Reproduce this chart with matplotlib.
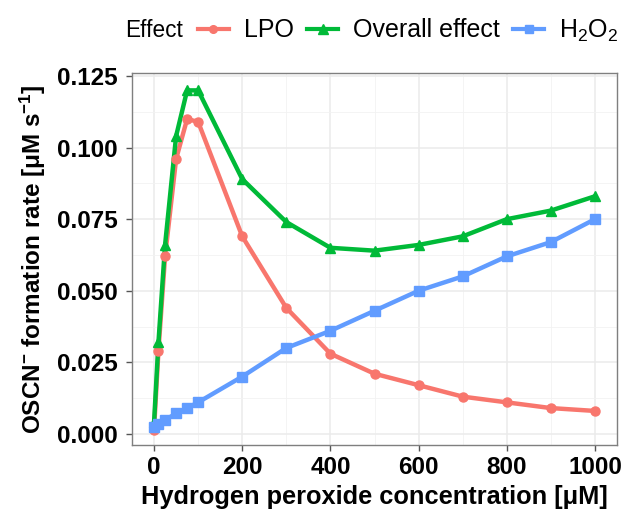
import matplotlib
matplotlib.use("Agg")
import matplotlib.pyplot as plt
from matplotlib.lines import Line2D
from matplotlib.ticker import MultipleLocator

plt.rcParams['font.family'] = ['Liberation Sans', 'DejaVu Sans']
plt.rcParams['mathtext.fontset'] = 'custom'
plt.rcParams['mathtext.rm'] = 'Liberation Sans'
plt.rcParams['mathtext.it'] = 'Liberation Sans:italic'
plt.rcParams['mathtext.bf'] = 'Liberation Sans:bold'
plt.rcParams['mathtext.default'] = 'rm'

# Data
conc = [0, 10, 25, 50, 75, 100, 200, 300, 400, 500, 600, 700, 800, 900, 1000]
lpo = [0.0015, 0.029, 0.062, 0.096, 0.110, 0.109, 0.069, 0.044, 0.028, 0.021,
       0.017, 0.013, 0.011, 0.009, 0.008]
overall = [0.004, 0.032, 0.066, 0.104, 0.120, 0.120, 0.089, 0.074, 0.065, 0.064,
           0.066, 0.069, 0.075, 0.078, 0.083]
h2o2 = [0.0025, 0.0035, 0.0047, 0.0072, 0.009, 0.011, 0.020, 0.030, 0.036, 0.043,
        0.050, 0.055, 0.062, 0.067, 0.075]
series_labels = ['LPO', 'Overall effect', 'H$_2$O$_2$']
legend_title = 'Effect'
xticks = [0, 200, 400, 600, 800, 1000]
yticks = [0.000, 0.025, 0.050, 0.075, 0.100, 0.125]

colors = ['#F8766D', '#00BA38', '#619CFF']
markers = ['o', '^', 's']
msizes = [6.5, 7.5, 7]
series = [lpo, overall, h2o2]

fig = plt.figure(figsize=(6.27, 5.11), dpi=100)
ax = fig.add_axes([132/627, 1 - 445/511, (617-132)/627, (445-73.5)/511])

for ys, c in zip(series, colors):
    ax.plot(conc, ys, color=c, lw=3.2, solid_capstyle='butt', zorder=3)
for ys, c, m, ms in zip(series, colors, markers, msizes):
    ax.plot(conc, ys, color=c, lw=0, marker=m, ms=ms, mec=c, zorder=4)

ax.set_xlim(-50, 1050)
ax.set_ylim(-0.0039, 0.1259)
ax.set_xticks(xticks)
ax.set_yticks(yticks)
ax.set_xticklabels([str(t) for t in xticks])
ax.set_yticklabels([f"{t:.3f}" for t in yticks])
ax.xaxis.set_minor_locator(MultipleLocator(100))
ax.yaxis.set_minor_locator(MultipleLocator(0.0125))
ax.grid(which='major', color='#EBEBEB', lw=1.1, zorder=0)
ax.grid(which='minor', color='#F2F2F2', lw=0.6, zorder=0)
ax.set_axisbelow(True)
for s in ax.spines.values():
    s.set_color('#7F7F7F')
    s.set_linewidth(1.0)
ax.tick_params(which='major', direction='out', length=4, width=1, color='#555555',
               labelsize=17.5)
ax.tick_params(axis='y', which='major', pad=6)
ax.tick_params(axis='x', which='major', pad=4)
ax.tick_params(which='minor', length=0)
for lab in ax.get_xticklabels() + ax.get_yticklabels():
    lab.set_fontweight('bold')
    lab.set_color('black')

ax.set_xlabel('Hydrogen peroxide concentration [μM]', fontsize=18.3, fontweight='bold', labelpad=4)
ax.set_ylabel(r'OSCN$^{\mathbf{-}}$ formation rate [μM s$^{\mathbf{-1}}$]', fontsize=17.5,
              fontweight='bold', labelpad=7)

# Legend
handles = [Line2D([], [], color=c, lw=3, marker=m, ms=ms - 1, mec=c)
           for c, m, ms in zip(colors, markers, msizes)]
fig.text(125/627, 1 - 30.5/511, legend_title, fontsize=16.3, ha='left', va='center')
leg = fig.legend(handles, series_labels, loc='center left',
                 bbox_to_anchor=(198/627, 1 - 30.5/511), ncol=3, frameon=False,
                 fontsize=18, handlelength=1.22, handletextpad=0.6,
                 columnspacing=0.55, borderpad=0, borderaxespad=0)

fig.savefig('out.png', dpi=100)
